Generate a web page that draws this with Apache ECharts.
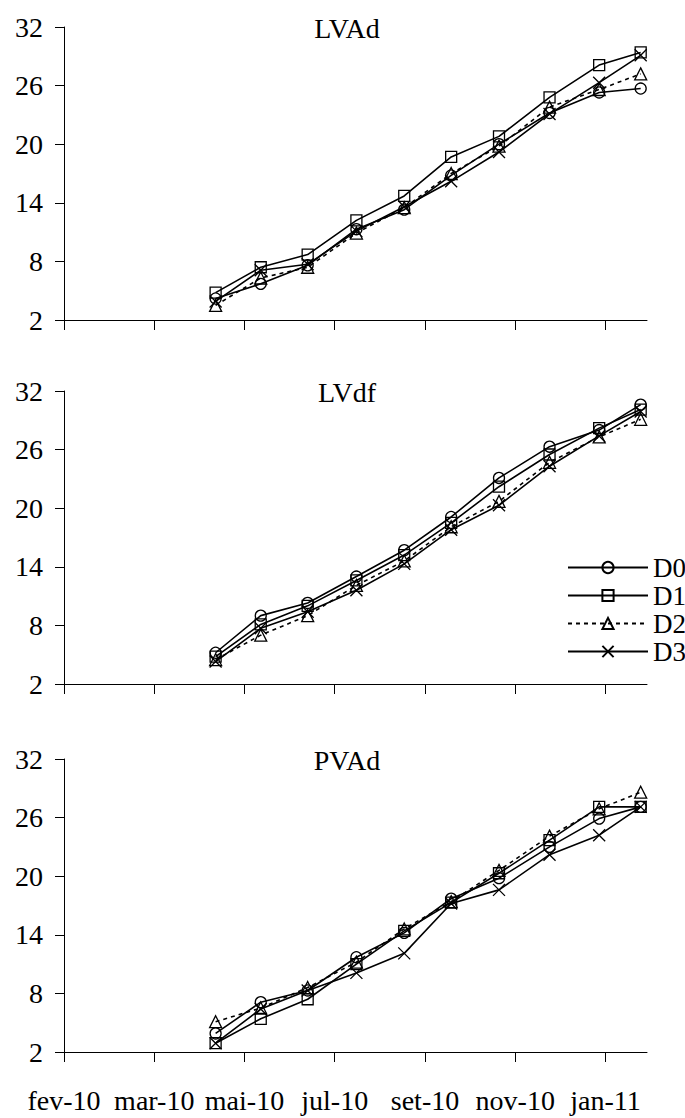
<!DOCTYPE html>
<html>
<head>
<meta charset="utf-8">
<script src="https://cdn.jsdelivr.net/npm/echarts@6/dist/echarts.min.js"></script>
<style>
html,body{margin:0;padding:0;background:#fff;}
#chart{width:685px;height:1118px;}
</style>
</head>
<body>
<div id="chart"></div>
<script>
// x positions of the sampling dates, in x-axis tick units (0 = fev-10, 1 = mar-10, 2 = mai-10 ...)
const sampleX = [1.68, 2.18, 2.70, 3.24, 3.77, 4.29, 4.82, 5.38, 5.93, 6.39];
const xTickLabels = ['fev-10', 'mar-10', 'mai-10', 'jul-10', 'set-10', 'nov-10', 'jan-11'];
const seriesNames = ['D0', 'D1', 'D2', 'D3'];
const panelTitles = ['LVAd', 'LVdf', 'PVAd'];

// LVAd
const lvadD0 = [4.2, 5.7, 7.6, 11.3, 13.3, 16.8, 20.0, 23.2, 25.3, 25.7];
const lvadD1 = [4.8, 7.4, 8.7, 12.2, 14.7, 18.7, 20.8, 24.8, 28.1, 29.4];
const lvadD2 = [3.5, 6.3, 7.4, 10.9, 13.5, 17.0, 19.8, 23.8, 25.6, 27.2];
const lvadD3 = [3.9, 7.1, 7.7, 11.1, 13.6, 16.2, 19.2, 23.1, 26.3, 29.1];
// LVdf
const lvdfD0 = [5.2, 9.0, 10.3, 13.0, 15.7, 19.1, 23.1, 26.3, 28.0, 30.6];
const lvdfD1 = [4.8, 8.1, 10.0, 12.6, 15.2, 18.5, 22.2, 25.5, 28.2, 30.1];
const lvdfD2 = [4.5, 7.0, 9.0, 12.1, 14.6, 18.1, 20.7, 24.7, 27.3, 29.1];
const lvdfD3 = [4.3, 7.7, 9.4, 11.6, 14.3, 17.8, 20.3, 24.3, 27.4, 29.9];
// PVAd
const pvadD0 = [3.9, 7.1, 8.3, 11.7, 14.2, 17.7, 19.8, 23.0, 25.9, 27.1];
const pvadD1 = [2.9, 5.4, 7.4, 11.0, 14.4, 17.3, 20.3, 23.7, 27.1, 27.1];
const pvadD2 = [5.1, 6.5, 8.6, 11.2, 14.6, 17.4, 20.6, 24.1, 26.9, 28.6];
const pvadD3 = [2.9, 6.4, 8.3, 10.1, 12.1, 17.2, 18.6, 22.2, 24.2, 27.1];

const panelData = [
  [lvadD0, lvadD1, lvadD2, lvadD3],
  [lvdfD0, lvdfD1, lvdfD2, lvdfD3],
  [pvadD0, pvadD1, pvadD2, pvadD3]
];

const FONT = 'Liberation Serif';
const gridTops = [27, 391, 759];
const gridH = 293;
const titleY = [28, 392, 760];

const symbols = ['circle', 'rect', 'triangle', 'path://M0,0L10,10M10,0L0,10'];
const symbolSizes = [11, 11, 12, 12];
const lineTypes = ['solid', 'solid', [4, 4], 'solid'];

const grids = [], xAxes = [], yAxes = [], series = [], graphics = [];
gridTops.forEach((top, p) => {
  grids.push({left: 64, right: 38, top: top, height: gridH, containLabel: false});
  xAxes.push({
    type: 'value', gridIndex: p, min: 0, max: 6.46,
    axisLine: {onZero: false, lineStyle: {color: '#000', width: 1}},
    axisTick: {show: true, length: 10, inside: false, lineStyle: {color: '#000', width: 1},
               customValues: xTickLabels.map((_, i) => i)},
    axisLabel: {show: p === 2, customValues: xTickLabels.map((_, i) => i),
                formatter: v => xTickLabels[Math.round(v)] || '',
                color: '#000', fontFamily: FONT, fontSize: 28, margin: 34},
    splitLine: {show: false}
  });
  yAxes.push({
    type: 'value', gridIndex: p, min: 2, max: 32, interval: 6,
    axisLine: {show: true, onZero: false, lineStyle: {color: '#000', width: 1}},
    axisTick: {show: true, length: 9, inside: false, lineStyle: {color: '#000', width: 1}},
    axisLabel: {color: '#000', fontFamily: FONT, fontSize: 28, margin: 21},
    splitLine: {show: false}
  });
  panelData[p].forEach((vals, s) => {
    series.push({
      name: seriesNames[s], type: 'line', xAxisIndex: p, yAxisIndex: p,
      data: vals.map((v, i) => [sampleX[i], v]),
      symbol: symbols[s], symbolSize: symbolSizes[s], showAllSymbol: true,
      lineStyle: {color: '#000', width: 1.6, type: lineTypes[s]},
      itemStyle: {color: 'rgba(0,0,0,0)', borderColor: '#000', borderWidth: 1.3},
      emphasis: {disabled: true},
      animation: false, z: 2 + s
    });
  });
  graphics.push({
    type: 'text', x: 347, y: titleY[p],
    style: {text: panelTitles[p], fill: '#000', fontFamily: FONT, fontSize: 28, align: 'center', verticalAlign: 'middle'}
  });
});

const chart = echarts.init(document.getElementById('chart'), null, {renderer: 'svg'});
chart.setOption({
  backgroundColor: '#fff',
  animation: false,
  grid: grids,
  xAxis: xAxes,
  yAxis: yAxes,
  series: series,
  graphic: graphics,
  legend: {
    data: seriesNames, orient: 'vertical', left: 567, top: 554,
    itemWidth: 80, itemHeight: 14, itemGap: 1, padding: 0,
    textStyle: {color: '#000', fontFamily: FONT, fontSize: 27, lineHeight: 26},
    selectedMode: false
  }
});
</script>
</body>
</html>
